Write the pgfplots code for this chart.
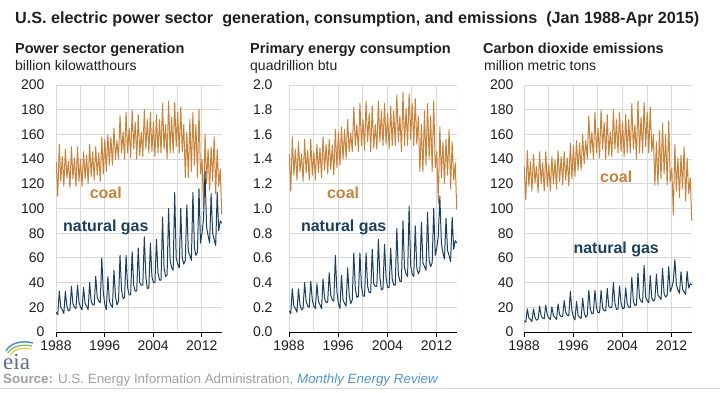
\documentclass[border=0pt]{standalone}
\usepackage{fontspec}
\setmainfont{Liberation Sans}
\newfontfamily\seriffont{Liberation Serif}
\usepackage{pgfplots}
\usepackage{pgfplotstable}
\pgfplotsset{compat=1.18}
\definecolor{coalc}{RGB}{200,131,58}
\definecolor{gasc}{RGB}{27,63,94}
\definecolor{gridc}{RGB}{217,217,217}
\definecolor{srcgray}{RGB}{160,160,160}
\definecolor{srcblue}{RGB}{80,150,210}
\definecolor{eiatext}{RGB}{95,110,135}
\definecolor{eiablue}{RGB}{70,150,200}
\definecolor{eiagreen}{RGB}{120,185,90}
\definecolor{eiayellow}{RGB}{235,200,60}

\pgfplotstableread{
x cg gg cc gc ce ge
1988.04 138 16 1.44 0.17 134 9.1
1988.29 110 14 1.14 0.15 107 7.9
1988.54 152 33 1.58 0.35 147 18.7
1988.79 122 20 1.27 0.21 118 11.3
1989.04 142 18 1.48 0.19 138 10.2
1989.29 118 15 1.23 0.16 114 8.5
1989.54 148 33 1.54 0.35 144 18.7
1989.79 125 21 1.30 0.22 121 11.9
1990.04 138 17 1.44 0.18 134 9.6
1990.29 117 18 1.22 0.19 113 10.2
1990.54 150 37 1.56 0.40 146 21.0
1990.79 124 23 1.29 0.25 120 13.0
1991.04 141 20 1.47 0.21 137 11.3
1991.29 118 19 1.23 0.20 114 10.8
1991.54 150 38 1.56 0.41 146 21.5
1991.79 122 24 1.27 0.26 118 13.6
1992.04 140 20 1.46 0.21 136 11.3
1992.29 118 18 1.23 0.19 114 10.2
1992.54 146 36 1.52 0.39 142 20.4
1992.79 124 23 1.29 0.25 120 13.0
1993.04 143 21 1.49 0.22 139 11.9
1993.29 120 18 1.25 0.19 116 10.2
1993.54 152 40 1.58 0.43 147 22.7
1993.79 126 25 1.31 0.27 122 14.2
1994.04 146 22 1.52 0.24 142 12.5
1994.29 123 22 1.28 0.24 119 12.5
1994.54 150 45 1.56 0.48 146 25.5
1994.79 127 28 1.32 0.30 123 15.9
1995.04 145 25 1.51 0.26 141 13.6
1995.29 122 24 1.27 0.25 118 13.1
1995.54 158 60 1.64 0.62 153 32.8
1995.79 128 32 1.33 0.33 124 17.5
1996.04 156 22 1.62 0.23 151 12.0
1996.29 130 18 1.35 0.19 126 9.8
1996.54 160 45 1.66 0.46 155 24.6
1996.79 135 25 1.40 0.26 131 13.6
1997.04 158 22 1.64 0.23 153 12.0
1997.29 135 20 1.40 0.21 131 10.9
1997.54 165 50 1.72 0.52 160 27.3
1997.79 140 29 1.46 0.30 136 15.8
1998.04 155 22 1.61 0.23 155 12.0
1998.29 140 25 1.46 0.26 140 13.6
1998.54 175 62 1.82 0.64 175 33.8
1998.79 145 34 1.51 0.35 145 18.6
1999.04 162 27 1.68 0.28 162 14.7
1999.29 140 28 1.46 0.29 140 15.3
1999.54 178 62 1.85 0.64 178 33.8
1999.79 145 36 1.51 0.37 145 19.7
2000.04 165 30 1.72 0.29 165 15.6
2000.29 141 30 1.47 0.29 141 15.6
2000.54 180 65 1.87 0.64 180 33.8
2000.79 148 38 1.54 0.37 148 19.7
2001.04 170 33 1.77 0.32 170 17.1
2001.29 140 33 1.46 0.32 140 17.1
2001.54 176 68 1.83 0.67 176 35.3
2001.79 143 40 1.49 0.39 143 20.8
2002.04 162 38 1.68 0.37 162 19.7
2002.29 142 38 1.48 0.37 142 19.7
2002.54 180 77 1.87 0.75 180 40.0
2002.79 148 45 1.54 0.44 148 23.4
2003.04 172 35 1.79 0.34 172 18.2
2003.29 145 36 1.51 0.35 145 18.7
2003.54 178 72 1.85 0.71 178 37.4
2003.79 146 45 1.52 0.44 146 23.4
2004.04 170 40 1.77 0.36 170 19.1
2004.29 142 40 1.48 0.36 142 19.1
2004.54 176 75 1.83 0.68 176 35.8
2004.79 145 48 1.51 0.43 145 22.9
2005.04 172 42 1.79 0.38 172 20.0
2005.29 145 42 1.51 0.38 145 20.0
2005.54 185 93 1.92 0.84 185 44.4
2005.79 148 52 1.54 0.47 148 24.8
2006.04 168 45 1.75 0.41 168 21.5
2006.29 140 46 1.46 0.41 140 21.9
2006.54 187 100 1.94 0.90 187 47.7
2006.79 145 58 1.51 0.52 145 27.7
2007.04 174 52 1.81 0.47 174 24.8
2007.29 145 50 1.51 0.45 145 23.9
2007.54 186 113 1.93 1.02 186 53.9
2007.79 150 60 1.56 0.54 150 28.6
2008.04 178 55 1.85 0.47 178 25.1
2008.29 145 52 1.51 0.45 145 23.7
2008.54 182 100 1.89 0.86 182 45.6
2008.79 146 60 1.52 0.52 146 27.3
2009.04 168 55 1.75 0.47 160 25.1
2009.29 125 58 1.30 0.50 119 26.4
2009.54 162 103 1.68 0.89 154 46.9
2009.79 125 65 1.30 0.56 119 29.6
2010.04 172 62 1.79 0.53 163 28.3
2010.29 130 58 1.35 0.50 124 26.4
2010.54 178 113 1.85 0.97 169 51.5
2010.79 135 68 1.40 0.58 128 31.0
2011.04 168 62 1.75 0.53 160 28.3
2011.29 125 65 1.30 0.56 119 29.6
2011.54 180 116 1.87 1.00 171 52.9
2011.79 128 72 1.33 0.62 122 32.8
2012.04 140 80 1.46 0.68 133 36.0
2012.29 100 92 1.04 0.78 95 41.4
2012.54 160 130 1.66 1.10 152 58.6
2012.79 120 85 1.25 0.72 114 38.3
2013.04 148 78 1.54 0.64 141 33.9
2013.29 115 72 1.20 0.59 109 31.3
2013.54 150 112 1.56 0.92 143 48.7
2013.79 122 80 1.27 0.66 116 34.8
2014.04 158 75 1.64 0.62 150 32.6
2014.29 112 70 1.16 0.57 106 30.4
2014.54 148 113 1.54 0.93 141 49.1
2014.79 118 82 1.23 0.67 112 35.6
2015.04 132 90 1.37 0.74 125 39.1
2015.29 95 88 0.99 0.72 90 38.2
}\data

\pgfplotsset{
  panel/.style={
    scale only axis, width=#1, height=247pt,
    xmin=1988, xmax=2015.33, ymin=0,
    axis x line*=bottom, axis y line*=left,
    x axis line style={black, line width=0.8pt, -},
    y axis line style={draw=none},
    xtick={1988,1996,2004,2012}, xticklabels={1988,1996,2004,2012},
    minor xtick={1992,2000,2008},
    xmajorgrids, xminorgrids, ymajorgrids,
    major grid style={gridc, line width=0.9pt},
    minor grid style={gridc, line width=0.9pt},
    tick align=outside, major tick length=5pt, minor tick length=0pt,
    xtick style={black, line width=0.8pt},
    ytick style={draw=none},
    tick label style={font=\fontsize{14}{16}\selectfont, text=black!88},
    /pgf/number format/assume math mode=true,
  },
}
\tikzset{
  coalline/.style={coalc, line width=1pt, line join=round},
  gasline/.style={gasc, line width=1pt, line join=round},
  lab/.style={font=\fontsize{16}{18}\selectfont\bfseries},
}

\begin{document}
\begin{tikzpicture}
\path[use as bounding box] (0,0) rectangle (720pt,392pt);

% titles
\node[anchor=base west, inner sep=0pt, font=\fontsize{16.2}{19}\selectfont\bfseries, text=black!88]
  at (15pt,368pt) {U.S. electric power sector\ \ generation, consumption, and emissions\ \ (Jan 1988-Apr\ 2015)};
\node[anchor=base west, inner sep=0pt, font=\fontsize{14.5}{17}\selectfont\bfseries, text=black!88]
  at (15pt,339pt) {Power sector generation};
\node[anchor=base west, inner sep=0pt, font=\fontsize{14}{17}\selectfont, text=black!88]
  at (15pt,322pt) {billion kilowatthours};
\node[anchor=base west, inner sep=0pt, font=\fontsize{14.5}{17}\selectfont\bfseries, text=black!88]
  at (250pt,339pt) {Primary energy consumption};
\node[anchor=base west, inner sep=0pt, font=\fontsize{14}{17}\selectfont, text=black!88]
  at (250pt,322pt) {quadrillion btu};
\node[anchor=base west, inner sep=0pt, font=\fontsize{14.5}{17}\selectfont\bfseries, text=black!88]
  at (483pt,339pt) {Carbon dioxide emissions};
\node[anchor=base west, inner sep=0pt, font=\fontsize{14}{17}\selectfont, text=black!88]
  at (484pt,322pt) {million metric tons};

% panel 1
\begin{axis}[panel=166pt, at={(56pt,60pt)}, anchor=south west,
  ymax=200, ytick={0,20,40,60,80,100,120,140,160,180,200},
  yticklabels={0,20,40,60,80,100,120,140,160,180,200},
  yticklabel style={xshift=-3pt}]
  \addplot[coalline] table[x=x,y=cg]{\data};
  \addplot[gasline] table[x=x,y=gg]{\data};
  \draw[gridc, line width=0.9pt] (rel axis cs:1,0) -- (rel axis cs:1,1);
  \node[lab, text=coalc] at (axis cs:1996.2,112.5) {coal};
  \node[lab, text=gasc] at (axis cs:1996.2,85) {natural gas};
\end{axis}

% panel 2
\begin{axis}[panel=168pt, at={(289pt,60pt)}, anchor=south west,
  ymax=2, ytick={0,0.2,0.4,0.6,0.8,1.0,1.2,1.4,1.6,1.8,2.0},
  yticklabels={0.0,0.2,0.4,0.6,0.8,1.0,1.2,1.4,1.6,1.8,2.0},
  yticklabel style={xshift=-8pt}]
  \addplot[coalline] table[x=x,y=cc]{\data};
  \addplot[gasline] table[x=x,y=gc]{\data};
  \draw[gridc, line width=0.9pt] (rel axis cs:1,0) -- (rel axis cs:1,1);
  \node[lab, text=coalc] at (axis cs:1996.8,1.125) {coal};
  \node[lab, text=gasc] at (axis cs:1996.9,0.85) {natural gas};
\end{axis}

% panel 3
\begin{axis}[panel=168pt, at={(524pt,60pt)}, anchor=south west,
  ymax=200, ytick={0,20,40,60,80,100,120,140,160,180,200},
  yticklabels={0,20,40,60,80,100,120,140,160,180,200},
  yticklabel style={xshift=-2pt}]
  \addplot[coalline] table[x=x,y=ce]{\data};
  \addplot[gasline] table[x=x,y=ge]{\data};
  \draw[gridc, line width=0.9pt] (rel axis cs:1,0) -- (rel axis cs:1,1);
  \node[lab, text=coalc] at (axis cs:2003.0,126) {coal};
  \node[lab, text=gasc] at (axis cs:2003.0,67) {natural gas};
\end{axis}

% eia logo
\draw[line width=1.5pt, eiablue] (6pt,41pt) .. controls (10pt,49pt) and (22pt,52pt) .. (33pt,49pt);
\draw[line width=1.3pt, eiagreen] (8pt,39pt) .. controls (12pt,46pt) and (22pt,48pt) .. (32pt,46pt);
\draw[line width=1.1pt, eiayellow] (10pt,37pt) .. controls (14pt,43pt) and (22pt,45pt) .. (31pt,43pt);
\node[anchor=base west, inner sep=0pt, font=\seriffont\fontsize{23}{25}\selectfont, text=eiatext] at (3pt,23pt) {eia};

% source
\node[anchor=base west, inner sep=0pt, font=\fontsize{13.4}{15}\selectfont, text=srcgray]
  at (3pt,9pt) {\textbf{Source:} U.S. Energy Information Administration, \textcolor{srcblue}{\itshape Monthly Energy Review}};
\draw[gridc, line width=0.8pt] (0pt,4pt) -- (720pt,4pt);
\end{tikzpicture}
\end{document}
